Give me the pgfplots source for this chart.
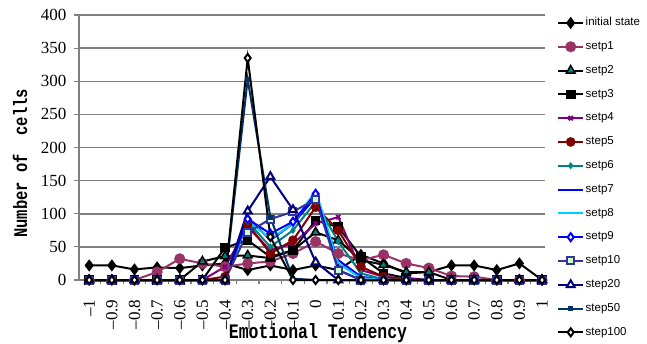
\documentclass[border=0pt]{standalone}
\usepackage{pgfplots}
\usepackage{pgfplotstable}
\pgfplotsset{compat=1.18}
\usepackage{fontspec}
\usepackage{graphicx}
\setmainfont{Liberation Serif}
\newfontfamily\legfont{Liberation Sans}
\newfontfamily\labfont{Liberation Mono}
\definecolor{plum}{HTML}{993366}
\definecolor{tealc}{HTML}{008080}
\definecolor{purp}{HTML}{800080}
\definecolor{dred}{HTML}{800000}
\definecolor{cyanc}{HTML}{00CCFF}
\definecolor{slate}{HTML}{333399}
\definecolor{navyc}{HTML}{000080}
\definecolor{dblue}{HTML}{003366}
\definecolor{lgreen}{HTML}{CCFFCC}
\definecolor{lyellow}{HTML}{FFFF99}
\definecolor{gridg}{HTML}{808080}
\pgfplotstableread{
x     init s1 s2 s3 s4 s5  s6  s7  s8  s9  s10 s20 s50 s100
-1    22   0  0  0  0  0   0   0   0   0   0   0   0   0
-0.9  22   0  0  0  0  0   0   0   0   0   0   0   0   0
-0.8  16   0  0  0  0  0   0   0   0   0   0   0   0   0
-0.7  19  12  0  0  0  0   0   0   0   0   0   0   0   0
-0.6  18  32  0  0  0  0   0   0   0   0   0   0   0   0
-0.5  22  25 28  0  0  0   0   0   0   0   0   0   0   0
-0.4  25  20 36 49 20  5   0   0   0   0   0   0   0   0
-0.3  15  25 37 60 80 85  88  95  90  92  72  104 303 335
-0.2  22  28 33 35 45 40  50  60  62  70  92  156 95  65
-0.1  15  40 45 45 55 60  75  85  85  88  103 106 2   0
0     22  58 72 90 85 110 118 125 135 130 122 27  0   0
0.1   15  40 60 80 95 75  58  30  25  15  15  0   0   0
0.2   38  30 30 35 15 20  10  5   3   0   0   0   0   0
0.3   25  38 23 10 5  5   1   0   0   0   0   0   0   0
0.4   10  25 12 3  2  0   0   0   0   0   0   0   0   0
0.5   12  18 12 0  0  0   0   0   0   0   0   0   0   0
0.6   22  6  0  0  0  0   0   0   0   0   0   0   0   0
0.7   22  5  0  0  0  0   0   0   0   0   0   0   0   0
0.8   15  0  0  0  0  0   0   0   0   0   0   0   0   0
0.9   25  0  0  0  0  0   0   0   0   0   0   0   0   0
1     0   0  0  0  0  0   0   0   0   0   0   0   0   0
}\data
\begin{document}
\begin{tikzpicture}
\begin{axis}[
  at={(0pt,0pt)}, anchor=south west,
  width=466pt, height=265pt, scale only axis,
  xmin=-1.045, xmax=1.013, ymin=0, ymax=400,
  clip=false,
  axis lines*=left,
  axis line style={gridg, line width=1.5pt},
  ymajorgrids, grid style={gridg, line width=1.5pt},
  ytick={0,50,...,400},
  xtick={-1,-0.9,-0.8,-0.7,-0.6,-0.5,-0.4,-0.3,-0.2,-0.1,0,0.1,0.2,0.3,0.4,0.5,0.6,0.7,0.8,0.9,1},
  xticklabels={–1,–0.9,–0.8,–0.7,–0.6,–0.5,–0.4,–0.3,–0.2,–0.1,0,0.1,0.2,0.3,0.4,0.5,0.6,0.7,0.8,0.9,1},
  minor xtick={-0.95,-0.85,-0.75,-0.65,-0.55,-0.45,-0.35,-0.25,-0.15,-0.05,0.05,0.15,0.25,0.35,0.45,0.55,0.65,0.75,0.85,0.95},
  tick align=outside,
  x tick style={draw=none},
  minor x tick style={draw=gridg, line width=1.2pt},
  y tick style={gridg, line width=1.2pt},
  major tick length=5pt, minor tick length=4pt,
  /pgf/number format/assume math mode=true,
  tick label style={font=\fontsize{17}{17}\selectfont},
  xticklabel style={rotate=90, anchor=east, xshift=-11pt},
  yticklabel style={anchor=east, xshift=-4pt},
  xlabel={\scalebox{1}[1.25]{Emotional Tendency}},
  xlabel style={at={(rel axis cs:0.513,0)}, anchor=base, yshift=-58pt, font=\labfont\bfseries\fontsize{16.5}{16.5}\selectfont},
  ylabel={\scalebox{1}[1.25]{Number of\ \ cells}},
  ylabel style={at={(rel axis cs:-0.1266,0.44)}, anchor=center, font=\labfont\bfseries\fontsize{15.5}{15.5}\selectfont},
  lw/.style={line width=2pt},
  legend image code/.code={\draw[mark repeat=2,mark phase=2,line width=2pt,#1] plot coordinates {(0pt,0pt) (12.5pt,0pt) (25pt,0pt)};},
  legend cell align=left,
  legend style={at={(rel axis cs:1,1)}, anchor=north west, xshift=12pt, yshift=-1.5pt,
    draw=none, fill=none, inner sep=0pt, row sep=11.3pt,
    font=\legfont\fontsize{11.5}{12}\selectfont,
    nodes={inner sep=1.5pt, text height=7.5pt, text depth=2pt}},
]
\addplot[lw, black, mark=diamond*, mark size=4.5pt] table[x=x,y=init]{\data};
\addlegendentry{initial state}
\addplot[lw, plum, mark=*, mark size=4.5pt] table[x=x,y=s1]{\data};
\addlegendentry{setp1}
\addplot[lw, black, mark=triangle*, mark size=5pt, mark options={fill=tealc, draw=black, line width=1.5pt}] table[x=x,y=s2]{\data};
\addlegendentry{setp2}
\addplot[lw, black, mark=square*, mark size=3.8pt] table[x=x,y=s3]{\data};
\addlegendentry{setp3}
\addplot[lw, purp, mark=x, mark size=3pt] table[x=x,y=s4]{\data};
\addlegendentry{setp4}
\addplot[lw, dred, mark=*, mark size=3.8pt] table[x=x,y=s5]{\data};
\addlegendentry{step5}
\addplot[lw, tealc, mark=diamond*, mark size=2pt] table[x=x,y=s6]{\data};
\addlegendentry{setp6}
\addplot[lw, blue, no marks] table[x=x,y=s7]{\data};
\addlegendentry{setp7}
\addplot[lw, cyanc, no marks] table[x=x,y=s8]{\data};
\addlegendentry{setp8}
\addplot[lw, blue, mark=diamond*, mark size=4pt, mark options={fill=white}] table[x=x,y=s9]{\data};
\addlegendentry{setp9}
\addplot[lw, slate, mark=square*, mark size=3.5pt, mark options={fill=lgreen}] table[x=x,y=s10]{\data};
\addlegendentry{setp10}
\addplot[lw, navyc, mark=triangle*, mark size=4.5pt, mark options={fill=lyellow}] table[x=x,y=s20]{\data};
\addlegendentry{step20}
\addplot[lw, dblue, mark=square*, mark size=1.5pt] table[x=x,y=s50]{\data};
\addlegendentry{step50}
\addplot[lw, black, mark=diamond*, mark size=4pt, mark options={fill=white}] table[x=x,y=s100]{\data};
\addlegendentry{step100}
\end{axis}
\pgfresetboundingbox
\path (-79pt,-63pt) rectangle (568pt,280pt);
\end{tikzpicture}
\end{document}
